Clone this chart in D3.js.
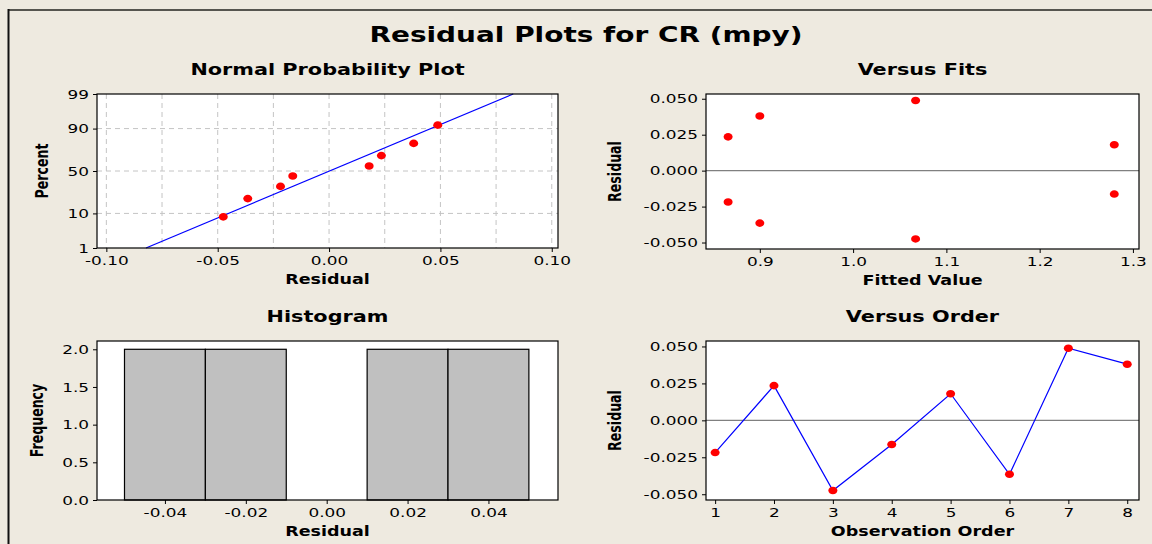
<!DOCTYPE html>
<html>
<head>
<meta charset="utf-8">
<script src="https://cdn.jsdelivr.net/npm/d3@7"></script>
<style>
  body { margin: 0; background: #EEEAE0; }
  svg { display: block; }
  .tick text { font-family: "DejaVu Sans", sans-serif; font-size: 13px; fill: #000; }
  .tick line { stroke: #000; }
  .domain { display: none; }
</style>
</head>
<body>
<div id="chart-area"></div>
<script>
// residuals by observation order, with their fitted values
const obsOrder = [1, 2, 3, 4, 5, 6, 7, 8]
const fittedValues = [0.866, 0.866, 1.067, 1.280, 1.280, 0.900, 1.067, 0.900]
const residuals = [-0.0218, 0.0235, -0.0475, -0.0163, 0.0180, -0.0365, 0.0488, 0.0380]

// normal probability plot: percent for each sorted residual, plus the fitted line ends
const nppPercent = [8.3, 20.2, 32.1, 44.0, 56.0, 67.9, 79.8, 91.7]
const fitLineResidual = [-0.0822, 0.0827]
const fitLinePercent = [1, 99]

// histogram
const histBinEdges = [-0.05, -0.03, -0.01, 0.01, 0.03, 0.05]
const histCounts = [2, 2, 0, 2, 2]

// tick labels
const nppXTicks = [-0.10, -0.05, 0.00, 0.05, 0.10]
const nppXGrid = [-0.10, -0.075, -0.05, -0.025, 0, 0.025, 0.05, 0.075, 0.10]
const nppYTicks = [1, 10, 50, 90, 99]
const nppYGrid = [10, 50, 90]
const fitsXTicks = [0.9, 1.0, 1.1, 1.2, 1.3]
const residTicks = [-0.050, -0.025, 0.000, 0.025, 0.050]
const histXTicks = [-0.04, -0.02, 0.00, 0.02, 0.04]
const histYTicks = [0.0, 0.5, 1.0, 1.5, 2.0]

let WIDTH = 1152
let HEIGHT = 544
let SX = 1.3   // the original picture is stretched sideways, so is all text

// inverse normal cdf (Acklam's approximation), for the probability axis
function probit(p) {
    const a = [-39.69683028665376, 220.9460984245205, -275.9285104469687, 138.3577518672690, -30.66479806614716, 2.506628277459239]
    const b = [-54.47609879822406, 161.5858368580409, -155.6989798598866, 66.80131188771972, -13.28068155288572]
    const c = [-0.007784894002430293, -0.3223964580411365, -2.400758277161838, -2.549732539343734, 4.374664141464968, 2.938163982698783]
    const d = [0.007784695709041462, 0.3224671290700398, 2.445134137142996, 3.754408661907416]
    const pl = 0.02425
    let q, r
    if (p < pl) {
        q = Math.sqrt(-2 * Math.log(p))
        return (((((c[0]*q+c[1])*q+c[2])*q+c[3])*q+c[4])*q+c[5]) / ((((d[0]*q+d[1])*q+d[2])*q+d[3])*q+1)
    }
    if (p > 1 - pl) {
        q = Math.sqrt(-2 * Math.log(1 - p))
        return -(((((c[0]*q+c[1])*q+c[2])*q+c[3])*q+c[4])*q+c[5]) / ((((d[0]*q+d[1])*q+d[2])*q+d[3])*q+1)
    }
    q = p - 0.5
    r = q * q
    return (((((a[0]*r+a[1])*r+a[2])*r+a[3])*r+a[4])*r+a[5])*q / (((((b[0]*r+b[1])*r+b[2])*r+b[3])*r+b[4])*r+1)
}

let svg = d3.select("#chart-area").append("svg")
    .attr("width", WIDTH)
    .attr("height", HEIGHT)

// frame
svg.append("rect").attr("width", WIDTH).attr("height", HEIGHT).attr("fill", "#EEEAE0")
svg.append("line").attr("x1", 8).attr("x2", WIDTH).attr("y1", 10).attr("y2", 10)
    .attr("stroke", "#55554f").attr("stroke-width", 2)
svg.append("line").attr("x1", 8.5).attr("x2", 8.5).attr("y1", 9).attr("y2", HEIGHT)
    .attr("stroke", "#111").attr("stroke-width", 2)

function label(parent, x, y, txt, size, weight) {
    return parent.append("text")
        .attr("transform", `translate(${x}, ${y}) scale(${SX}, 1)`)
        .attr("text-anchor", "middle")
        .attr("font-family", "DejaVu Sans, sans-serif")
        .attr("font-weight", weight)
        .attr("font-size", size)
        .text(txt)
}

label(svg, 586, 42, "Residual Plots for CR (mpy)", "21.5px", "bold")

// common bits for each panel
function panel(box, title, xTitle, yTitle, yTitleX) {
    let g = svg.append("g")
    g.append("rect")
        .attr("x", box.left).attr("y", box.top)
        .attr("width", box.right - box.left).attr("height", box.bottom - box.top)
        .attr("fill", "#fff")
    label(g, (box.left + box.right) / 2, box.top - 19, title, "16px", "bold")
    label(g, (box.left + box.right) / 2, box.bottom + 36, xTitle, "13.5px", "bold")
    g.append("text")
        .attr("transform", `translate(${yTitleX}, ${(box.top + box.bottom) / 2}) scale(${SX}, 1) rotate(-90)`)
        .attr("text-anchor", "middle")
        .attr("dy", "0.35em")
        .attr("font-family", "'Liberation Sans Narrow', 'DejaVu Sans Condensed', sans-serif")
        .attr("font-weight", "bold")
        .attr("font-size", "14px")
        .text(yTitle)
    return g
}

function border(g, box) {
    g.append("rect")
        .attr("x", box.left).attr("y", box.top)
        .attr("width", box.right - box.left).attr("height", box.bottom - box.top)
        .attr("fill", "none").attr("stroke", "#000").attr("stroke-width", 1.2)
}

function axes(g, box, x, y, xTicks, xFmt, yTicks, yFmt) {
    g.append("g")
        .attr("transform", `translate(0, ${box.bottom})`)
        .call(d3.axisBottom(x).tickValues(xTicks).tickFormat(xFmt).tickSize(4).tickPadding(4))
        .selectAll("text")
        .attr("transform", `scale(${SX}, 1)`)
    g.append("g")
        .attr("transform", `translate(${box.left}, 0)`)
        .call(d3.axisLeft(y).tickValues(yTicks).tickFormat(yFmt).tickSize(4))
        .selectAll("text")
        .attr("x", -8 / SX)
        .attr("transform", `scale(${SX}, 1)`)
}

function dots(g, data, cx, cy) {
    g.selectAll(".dot").data(data).enter().append("ellipse")
        .attr("class", "dot")
        .attr("cx", cx)
        .attr("cy", cy)
        .attr("rx", 4.5)
        .attr("ry", 3.8)
        .attr("fill", "#ff0000")
}

// ---------- Normal Probability Plot ----------
let b1 = {left: 97, right: 558, top: 94, bottom: 248}
let g1 = panel(b1, "Normal Probability Plot", "Residual", "Percent", 42)
let x1 = d3.scaleLinear().domain([-0.1042, 0.1028]).range([b1.left, b1.right])
let z1 = d3.scaleLinear().domain([probit(0.01), probit(0.99)]).range([b1.bottom, b1.top])
let yp = p => z1(probit(p / 100))

g1.selectAll(".vgrid").data(nppXGrid).enter().append("line")
    .attr("x1", d => x1(d)).attr("x2", d => x1(d))
    .attr("y1", b1.top).attr("y2", b1.bottom)
    .attr("stroke", "#c4c4c4").attr("stroke-dasharray", "5,4")
g1.selectAll(".hgrid").data(nppYGrid).enter().append("line")
    .attr("x1", b1.left).attr("x2", b1.right)
    .attr("y1", d => yp(d)).attr("y2", d => yp(d))
    .attr("stroke", "#c4c4c4").attr("stroke-dasharray", "5,4")

g1.append("line")
    .attr("x1", x1(fitLineResidual[0])).attr("y1", yp(fitLinePercent[0]))
    .attr("x2", x1(fitLineResidual[1])).attr("y2", yp(fitLinePercent[1]))
    .attr("stroke", "#0000ff").attr("stroke-width", 1.2)

let sortedRes = d3.sort(residuals)
dots(g1, sortedRes, d => x1(d), (d, i) => yp(nppPercent[i]))
border(g1, b1)
axes(g1, b1, x1, z1, nppXTicks, d => d.toFixed(2),
    nppYTicks.map(p => probit(p / 100)), (d, i) => nppYTicks[i])

// ---------- Versus Fits ----------
let b2 = {left: 706, right: 1139, top: 94, bottom: 249}
let g2 = panel(b2, "Versus Fits", "Fitted Value", "Residual", 615)
let x2 = d3.scaleLinear().domain([0.8423, 1.3065]).range([b2.left, b2.right])
let y2 = d3.scaleLinear().domain([-0.0545, 0.0533]).range([b2.bottom, b2.top])
g2.append("line")
    .attr("x1", b2.left).attr("x2", b2.right)
    .attr("y1", y2(0)).attr("y2", y2(0))
    .attr("stroke", "#808080").attr("stroke-width", 1.2)
dots(g2, residuals, (d, i) => x2(fittedValues[i]), d => y2(d))
border(g2, b2)
axes(g2, b2, x2, y2, fitsXTicks, d => d.toFixed(1), residTicks, d => d.toFixed(3))

// ---------- Histogram ----------
let b3 = {left: 97, right: 558, top: 341, bottom: 500}
let g3 = panel(b3, "Histogram", "Residual", "Frequency", 37)
let x3 = d3.scaleLinear().domain([-0.0568, 0.0572]).range([b3.left, b3.right])
let y3 = d3.scaleLinear().domain([0, 2.11]).range([b3.bottom, b3.top])
g3.selectAll(".bar").data(histCounts).enter().append("rect")
    .attr("x", (d, i) => x3(histBinEdges[i]))
    .attr("width", (d, i) => x3(histBinEdges[i + 1]) - x3(histBinEdges[i]))
    .attr("y", d => y3(d))
    .attr("height", d => y3(0) - y3(d))
    .attr("fill", "#c0c0c0")
    .attr("stroke", "#000").attr("stroke-width", 1.2)
border(g3, b3)
axes(g3, b3, x3, y3, histXTicks, d => d.toFixed(2), histYTicks, d => d.toFixed(1))

// ---------- Versus Order ----------
let b4 = {left: 706, right: 1139, top: 341, bottom: 500}
let g4 = panel(b4, "Versus Order", "Observation Order", "Residual", 615)
let x4 = d3.scaleLinear().domain([0.845, 8.2]).range([b4.left, b4.right])
let y4 = d3.scaleLinear().domain([-0.0539, 0.0537]).range([b4.bottom, b4.top])
g4.append("line")
    .attr("x1", b4.left).attr("x2", b4.right)
    .attr("y1", y4(0)).attr("y2", y4(0))
    .attr("stroke", "#808080").attr("stroke-width", 1.2)
let line = d3.line()
    .x((d, i) => x4(obsOrder[i]))
    .y(d => y4(d))
g4.append("path")
    .attr("d", line(residuals))
    .attr("fill", "none")
    .attr("stroke", "#0000ff").attr("stroke-width", 1.2)
dots(g4, residuals, (d, i) => x4(obsOrder[i]), d => y4(d))
border(g4, b4)
axes(g4, b4, x4, y4, obsOrder, d => d, residTicks, d => d.toFixed(3))
</script>
</body>
</html>
